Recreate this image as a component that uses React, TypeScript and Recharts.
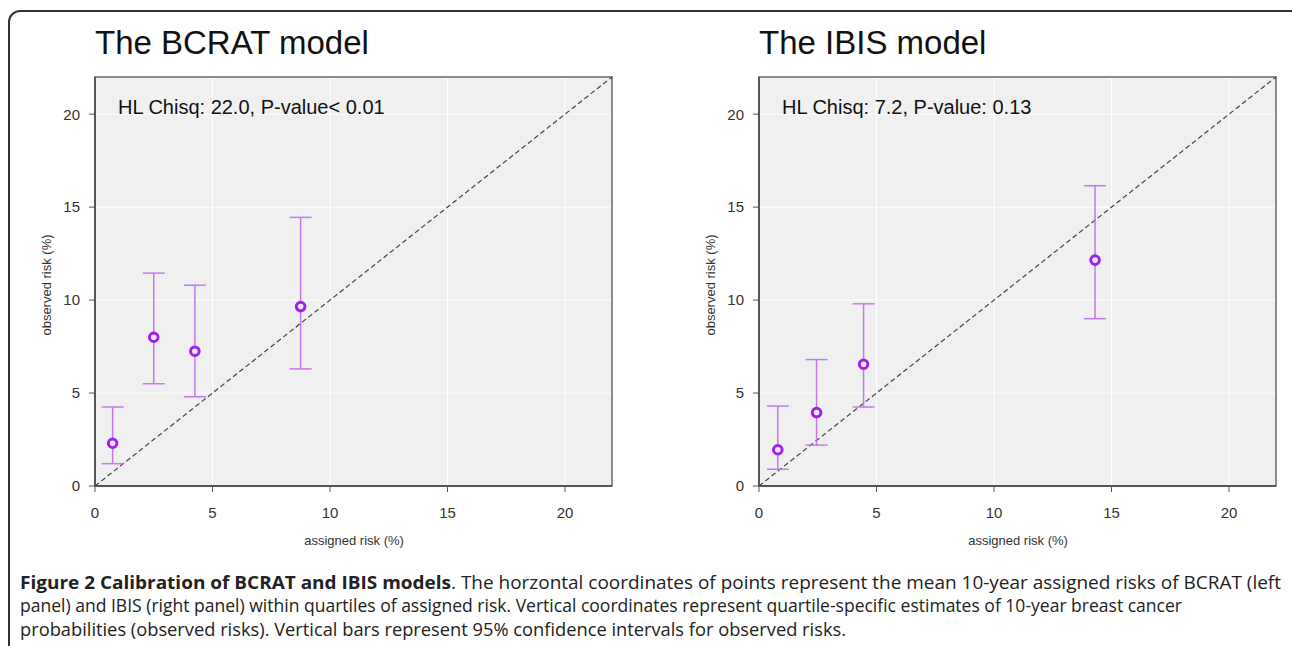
import {
  ComposedChart, Scatter, XAxis, YAxis, CartesianGrid, ReferenceLine, ReferenceArea, ErrorBar,
} from 'recharts'

// ── Data ──────────────────────────────────────────────────────────────────

const TICKS = [0, 5, 10, 15, 20]

const BCRAT_ASSIGNED = [0.75, 2.5, 4.25, 8.75]
const BCRAT_OBSERVED = [2.3, 8.0, 7.25, 9.65]
const BCRAT_LOW = [1.2, 5.5, 4.8, 6.3]
const BCRAT_HIGH = [4.25, 11.45, 10.8, 14.45]

const IBIS_ASSIGNED = [0.8, 2.45, 4.45, 14.3]
const IBIS_OBSERVED = [1.95, 3.95, 6.55, 12.15]
const IBIS_LOW = [0.9, 2.2, 4.25, 9.0]
const IBIS_HIGH = [4.3, 6.8, 9.8, 16.15]

const CAPTION_LINES = [
  'panel) and IBIS (right panel) within quartiles of assigned risk. Vertical coordinates represent quartile-specific estimates of 10-year breast cancer',
  'probabilities (observed risks). Vertical bars represent 95% confidence intervals for observed risks.',
]

type Pt = { x: number; y: number; err: [number, number] }

function buildPoints(xs: number[], ys: number[], lo: number[], hi: number[]): Pt[] {
  return xs.map((x, i) => ({ x, y: ys[i], err: [ys[i] - lo[i], hi[i] - ys[i]] }))
}

const PURPLE = '#a020f0'
const BAR_PURPLE = '#c37ae8'
const FONT = '"Liberation Sans", Arial, sans-serif'

function Dot(props: any) {
  const { cx, cy } = props
  if (cx == null || cy == null) return <g />
  return <circle cx={cx} cy={cy} r={4.3} fill="#f6eefc" stroke={PURPLE} strokeWidth={3} />
}

// ── One panel ─────────────────────────────────────────────────────────────

function Panel({ left, title, stat, data }: { left: number; title: string; stat: string; data: Pt[] }) {
  const tick = { fontSize: 15, fill: '#333', fontFamily: FONT }
  return (
    <>
      <div style={{ position: 'absolute', left: left + 95, top: 24, fontFamily: FONT, fontSize: 33, color: '#111', whiteSpace: 'nowrap' }}>
        {title}
      </div>
      <div style={{ position: 'absolute', left, top: 67 }}>
        <ComposedChart width={622} height={479} margin={{ top: 10, right: 10, left: 30, bottom: 0 }}>
          <CartesianGrid stroke="#ffffff" strokeWidth={1} fill="#f0f0f0" fillOpacity={1} />
          <XAxis
            type="number" dataKey="x" domain={[0, 22]} ticks={TICKS} allowDataOverflow
            height={60} tickSize={6} tickMargin={15} tick={tick}
            axisLine={{ stroke: '#555', strokeWidth: 2 }} tickLine={{ stroke: '#555' }}
          />
          <YAxis
            type="number" dataKey="y" domain={[0, 22]} ticks={TICKS} allowDataOverflow
            width={65} tickSize={6} tickMargin={9} tick={tick}
            axisLine={{ stroke: '#555', strokeWidth: 2 }} tickLine={{ stroke: '#555' }}
          />
          <ReferenceArea x1={0} x2={22} y1={0} y2={22} fill="none" stroke="#666" strokeWidth={1.5} />
          <ReferenceLine segment={[{ x: 0, y: 0 }, { x: 22, y: 22 }]} stroke="#444" strokeWidth={1.2} strokeDasharray="5 3" />
          <Scatter data={data} isAnimationActive={false} shape={() => <g />}>
            <ErrorBar dataKey="err" direction="y" width={11} stroke={BAR_PURPLE} strokeWidth={1.5} isAnimationActive={false} />
          </Scatter>
          <Scatter data={data} isAnimationActive={false} shape={Dot} />
        </ComposedChart>
      </div>
      <div style={{ position: 'absolute', left: left + 118, top: 96, fontFamily: FONT, fontSize: 20, color: '#111', whiteSpace: 'nowrap' }}>
        {stat}
      </div>
      <div style={{ position: 'absolute', left: left + 46, top: 285, transform: 'translate(-50%, -50%) rotate(-90deg)', fontFamily: FONT, fontSize: 13, color: '#333', whiteSpace: 'nowrap' }}>
        observed risk (%)
      </div>
      <div style={{ position: 'absolute', left: left + 354, top: 540, transform: 'translate(-50%, -50%)', fontFamily: FONT, fontSize: 13, color: '#333', whiteSpace: 'nowrap' }}>
        assigned risk (%)
      </div>
    </>
  )
}

export default function App() {
  const bcrat = buildPoints(BCRAT_ASSIGNED, BCRAT_OBSERVED, BCRAT_LOW, BCRAT_HIGH)
  const ibis = buildPoints(IBIS_ASSIGNED, IBIS_OBSERVED, IBIS_LOW, IBIS_HIGH)
  const capFont = '"Open Sans", "DejaVu Sans Condensed", sans-serif'
  return (
    <div style={{ position: 'absolute', left: 0, top: 0, width: 1292, height: 646, overflow: 'hidden', background: '#fff' }}>
      <div style={{ position: 'absolute', left: 8, top: 10, width: 1300, height: 700, border: '2px solid #333', borderRadius: 12 }} />
      <Panel left={0} title="The BCRAT model" stat="HL Chisq: 22.0, P-value< 0.01" data={bcrat} />
      <Panel left={664} title="The IBIS model" stat="HL Chisq: 7.2, P-value: 0.13" data={ibis} />
      <svg style={{ position: 'absolute', left: 0, top: 560 }} width={1292} height={86}>
        <text x={20} y={29} textLength={1261} lengthAdjust="spacingAndGlyphs" fontFamily={capFont} fontSize={18} fill="#222">
          <tspan fontWeight="bold">Figure 2 Calibration of BCRAT and IBIS models</tspan>
          <tspan>. The horzontal coordinates of points represent the mean 10-year assigned risks of BCRAT (left</tspan>
        </text>
        <text x={20} y={52} textLength={1162} lengthAdjust="spacingAndGlyphs" fontFamily={capFont} fontSize={18} fill="#222">
          {CAPTION_LINES[0]}
        </text>
        <text x={20} y={76} textLength={826} lengthAdjust="spacingAndGlyphs" fontFamily={capFont} fontSize={18} fill="#222">
          {CAPTION_LINES[1]}
        </text>
      </svg>
    </div>
  )
}
